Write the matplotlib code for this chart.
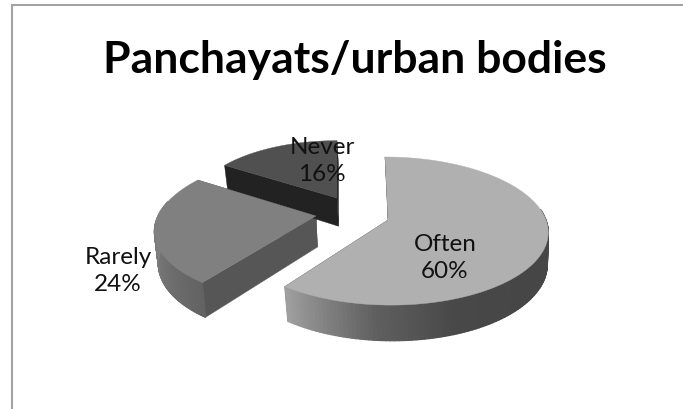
import numpy as np
import matplotlib
matplotlib.use("Agg")
import matplotlib.pyplot as plt
from matplotlib.collections import PolyCollection
from matplotlib.patches import Polygon

title = "Panchayats/urban bodies"
categories = ["Often", "Rarely", "Never"]
values = [60, 24, 16]

# styles (pixel layout of the exploded pie)
apexes = [(388, 221), (316, 217), (337, 199)]
scales = [1.0, 1.0, 0.91]
shears = [-3, 10, 0]
top_colors = ["#b0b0b0", "#808080", "#505050"]
side_colors = ["#3a3a3a", "#565656", "#222222"]
label_pos = [(445, 258), (118, 271), (322, 161)]
RX, RY, K, DEPTH, M = 158, 72.4, 0.149, 31, 0.15

plt.rcParams['font.family'] = ['Lato', 'DejaVu Sans']
fig = plt.figure(figsize=(6.83, 4.10), dpi=100)
ax = fig.add_axes([0, 0, 1, 1])
ax.set_xlim(0, 683)
ax.set_ylim(410, 0)
ax.axis("off")

ax.plot([11.5, 11.5, 684], [411, 5.5, 5.5], color="#a3a3a3", lw=1.5, solid_joinstyle="miter")


def top(i, a, r=1.0):
    apex, s = apexes[i], scales[i]
    X, Y = r * np.sin(a), r * np.cos(a)
    f = 1 + K * Y
    return apex[0] + s * RX * X / f + shears[i] * Y, apex[1] - s * RY * Y / f


def bottom(i, a, r=1.0):
    x, y = top(i, a, r)
    Y = r * np.cos(a)
    x0 = apexes[i][0]
    return x0 + (x - x0) * 0.985 + 1.5, y + scales[i] * DEPTH * (1 - M * Y)


def quad(i, a0, a1):
    x0, y0 = top(i, a0)
    x1, y1 = top(i, a1)
    x2, y2 = bottom(i, a1)
    x3, y3 = bottom(i, a0)
    return [(x0, y0), (x1, y1), (x2, y2), (x3, y3)]


def shade(t, stops):
    ts, vs = zip(*stops)
    v = np.interp(t, ts, vs)
    return (v / 255, v / 255, v / 255)


rim_stops = {
    "Often": [(90, 72), (130, 70), (160, 72), (185, 95), (216, 160)],
    "Rarely": [(216, 98), (245, 116), (270, 130), (302, 130)],
}

fracs = np.cumsum([0] + values) / sum(values) * 2 * np.pi
for i in [2, 1, 0]:
    a0, a1 = fracs[i], fracs[i + 1]
    # inner faces
    for a in (a0, a1):
        tx, ty = top(i, a)
        bx, by = bottom(i, a)
        ab = bottom(i, a, 0)
        ax.add_patch(Polygon([apexes[i], (tx, ty), (bx, by), ab], closed=True,
                             fc=side_colors[i], ec=side_colors[i], lw=0.3, zorder=2 + i))
    # rim
    name = categories[i]
    if name in rim_stops:
        angs = np.linspace(a0, a1, 160)
        quads, cols = [], []
        for p, q in zip(angs[:-1], angs[1:]):
            mid = (p + q) / 2
            if np.cos(mid) < 0.0 or (np.sin(mid) < 0 and np.cos(mid) < 0.2) or (np.sin(mid) > 0 and np.cos(mid) < 0.15):
                quads.append(quad(i, p, q))
                cols.append(shade(np.degrees(mid), rim_stops[name]))
        ax.add_collection(PolyCollection(quads, facecolors=cols, edgecolors=cols, linewidths=0.9, zorder=3 + i))
    # top face
    angs = np.linspace(a0, a1, 200)
    xs, ys = top(i, angs)
    pts = [apexes[i]] + list(zip(xs, ys))
    ax.add_patch(Polygon(pts, closed=True, fc=top_colors[i], ec=top_colors[i], lw=0.3, zorder=4 + i))

for name, v, (x, y) in zip(categories, values, label_pos):
    ax.text(x, y, f"{name}\n{v}%", ha="center", va="center", fontsize=17.5,
            linespacing=1.32, color="#111111", zorder=10)

ax.text(355, 60, title, ha="center", va="center", fontsize=32, fontweight="bold", color="black", zorder=10)

fig.savefig("out.png", dpi=100)
